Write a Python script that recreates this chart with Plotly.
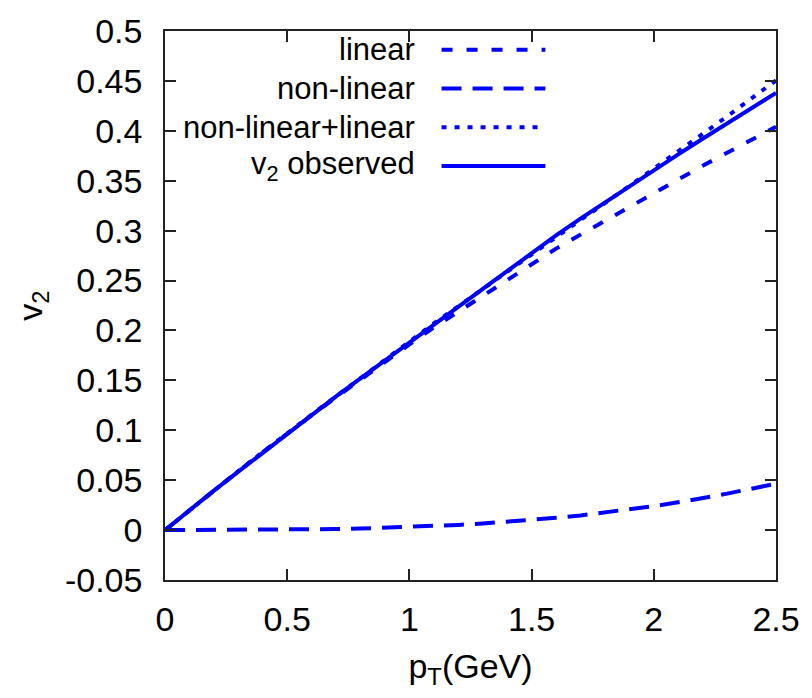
import plotly.graph_objects as go

# ---- data ----
pt = [0.0, 0.1, 0.2, 0.3, 0.4, 0.5, 0.6, 0.7, 0.8, 0.9, 1.0, 1.1, 1.2,
      1.3, 1.4, 1.5, 1.6, 1.7, 1.8, 1.9, 2.0, 2.1, 2.2, 2.3, 2.4, 2.5]

v2_linear = [0.0, 0.020, 0.040, 0.059, 0.078, 0.097, 0.115, 0.133, 0.151,
             0.169, 0.186, 0.203, 0.219, 0.235, 0.251, 0.267, 0.282, 0.296,
             0.310, 0.324, 0.338, 0.351, 0.365, 0.378, 0.391, 0.404]

v2_nonlinear = [0.0, 0.0, 0.0, 0.0001, 0.0002, 0.0004, 0.0006, 0.0010,
                0.0015, 0.0022, 0.0030, 0.0040, 0.0052, 0.0066, 0.0082,
                0.0101, 0.0123, 0.0147, 0.0175, 0.0206, 0.0240, 0.0278,
                0.0319, 0.0365, 0.0415, 0.0465]

v2_sum = [0.0, 0.020, 0.040, 0.0591, 0.0782, 0.0974, 0.1156, 0.1340, 0.1525,
          0.1712, 0.1890, 0.2070, 0.2242, 0.2416, 0.2592, 0.2771, 0.2943,
          0.3107, 0.3275, 0.3446, 0.3620, 0.3788, 0.3969, 0.4145, 0.4325,
          0.4505]

v2_observed = [0.0, 0.020, 0.0395, 0.0585, 0.0775, 0.0965, 0.1155, 0.134,
               0.152, 0.170, 0.188, 0.206, 0.224, 0.242, 0.260, 0.278,
               0.2952, 0.312, 0.3284, 0.3446, 0.3606, 0.3764, 0.392, 0.4075,
               0.4228, 0.438]

series_names = ["linear", "non-linear", "non-linear+linear", "v<sub>2</sub> observed"]

x_tickvals = [0, 0.5, 1, 1.5, 2, 2.5]
x_ticktext = ["0", "0.5", "1", "1.5", "2", "2.5"]
y_tickvals = [-0.05, 0, 0.05, 0.1, 0.15, 0.2, 0.25, 0.3, 0.35, 0.4, 0.45, 0.5]
y_ticktext = ["-0.05", "0", "0.05", "0.1", "0.15", "0.2", "0.25", "0.3",
              "0.35", "0.4", "0.45", "0.5"]

# ---- styles ----
BLUE = "#0000ff"
LW = 4
dashes = ["11px,14px", "20px,11px", "5px,8px", "solid"]
series = [v2_linear, v2_nonlinear, v2_sum, v2_observed]
FONT = "Liberation Sans, Arial, Helvetica, sans-serif"

fig = go.Figure()
for name, ys, d in zip(series_names, series, dashes):
    fig.add_trace(go.Scatter(x=pt, y=ys, mode="lines", name=name,
                             line=dict(color=BLUE, width=LW, dash=d),
                             showlegend=False))

# manual gnuplot-style legend: right-aligned text, sample to the right
plot_l, plot_r, plot_t, plot_b = 165, 777, 27, 580
W, H = plot_r - plot_l, plot_b - plot_t
row_px = [46, 85, 124, 163]
text_right_px = 417
line_x0_px, line_x1_px = 442, 546
shapes = []
annotations = []
for name, d, ry in zip(series_names, dashes, row_px):
    yp = (plot_b - ry) / H
    annotations.append(dict(xref="paper", yref="paper",
                            x=(text_right_px - plot_l) / W, y=yp,
                            xanchor="right", yanchor="middle",
                            text=name, showarrow=False,
                            font=dict(family=FONT, size=31, color="black")))
    shapes.append(dict(type="line", xref="paper", yref="paper",
                       x0=(line_x0_px - plot_l) / W, x1=(line_x1_px - plot_l) / W,
                       y0=yp, y1=yp,
                       line=dict(color=BLUE, width=LW, dash=d)))

axis_common = dict(showline=True, linecolor="#222", linewidth=1.5,
                   mirror="allticks", ticks="inside", ticklen=11,
                   tickwidth=1.5, tickcolor="#222", showgrid=False,
                   zeroline=False,
                   tickfont=dict(family=FONT, size=34, color="black"))

fig.update_layout(
    width=812, height=698,
    margin=dict(l=plot_l, r=812 - plot_r, t=plot_t, b=698 - plot_b),
    paper_bgcolor="white", plot_bgcolor="white",
    font=dict(family=FONT, color="black"),
    xaxis=dict(range=[0, 2.5], tickvals=x_tickvals, ticktext=x_ticktext,
               title=dict(text="p<sub>T</sub>(GeV)",
                          font=dict(family=FONT, size=34), standoff=18),
               ticklabelstandoff=8, **axis_common),
    yaxis=dict(range=[-0.05, 0.5], tickvals=y_tickvals, ticktext=y_ticktext,
               title=dict(text="v<sub>2</sub>",
                          font=dict(family=FONT, size=34), standoff=12),
               ticklabelstandoff=14, **axis_common),
    shapes=shapes, annotations=annotations,
)

fig.write_html("out.html")
